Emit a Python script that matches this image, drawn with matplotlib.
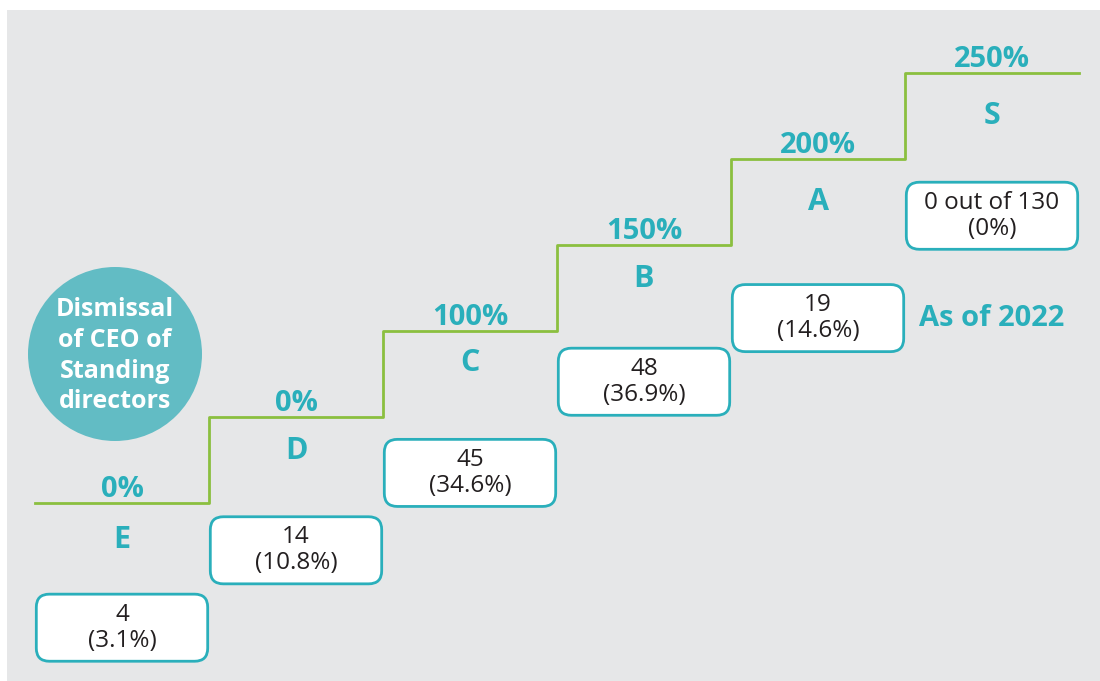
import numpy as np
import matplotlib.pyplot as plt
from matplotlib.patches import FancyBboxPatch, Rectangle

grades = ['E', 'D', 'C', 'B', 'A', 'S']
rates = ['0%', '0%', '100%', '150%', '200%', '250%']
counts = ['4', '14', '45', '48', '19', '0 out of 130']
shares = ['(3.1%)', '(10.8%)', '(34.6%)', '(36.9%)', '(14.6%)', '(0%)']

# layout (step units: 1 x-unit = one step wide, 1 y-unit = one step high)
letter_drop = [0.43, 0.40, 0.37, 0.39, 0.50, 0.50]
box_drop = [1.45, 1.55, 1.65, 1.59, 1.85, 1.66]
teal = '#2aafbb'
green = '#8bbf3f'
bg = '#e6e7e8'

plt.rcParams['font.family'] = ['Open Sans', 'DejaVu Sans']

fig = plt.figure(figsize=(11, 6.81), dpi=100)
ax = fig.add_axes([0, 0, 1, 1])
px, py = 174.0, 86.0
x0, y0 = 35.0, 503.0
ax.set_xlim(-x0 / px, (1100 - x0) / px)
ax.set_ylim((y0 - 681) / py, y0 / py)
ax.axis('off')

# gray panel
ax.add_patch(Rectangle(((7 - x0) / px, (y0 - 681) / py), 10, (681 - 10) / py,
                       facecolor=bg, edgecolor='none', zorder=0))

n = len(grades)
levels = np.arange(n)
xs = np.append(levels, n)
ax.step(xs, np.append(levels, levels[-1]), where='post', color=green, lw=2.0, zorder=2)

for i in range(n):
    cx = i + 0.5
    ax.text(cx, levels[i] + 0.16, rates[i], color=teal, fontsize=21, fontweight='bold',
            ha='center', va='center')
    ax.text(cx, levels[i] - letter_drop[i], grades[i], color=teal, fontsize=22,
            fontweight='bold', ha='center', va='center')
    by = levels[i] - box_drop[i]
    w, h = 0.985, 0.78
    box = FancyBboxPatch((cx - w / 2, by - h / 2), w, h,
                         boxstyle='round,pad=0,rounding_size=0.075',
                         mutation_aspect=px / py,
                         facecolor='white', edgecolor=teal, lw=2, zorder=3)
    ax.add_patch(box)
    ax.text(cx, by, counts[i] + '\n' + shares[i], color='#231f20', fontsize=17.5,
            ha='center', va='center', linespacing=1.1, zorder=4)

# As of 2022 note next to the A box
ax.text(5.5, levels[4] - box_drop[4], 'As of 2022', color=teal, fontsize=21,
        fontweight='bold', ha='center', va='center')

# circle title
cxp, cyp = (115 - x0) / px, (y0 - 354) / py
ax.add_patch(FancyBboxPatch((cxp, cyp), 0, 0, boxstyle='circle,pad=0.5',
                            mutation_aspect=px / py, facecolor='#62bcc4',
                            edgecolor='none', zorder=1))
ax.text(cxp, cyp - 0.02, 'Dismissal\nof CEO of\nStanding\ndirectors', color='white',
        fontsize=18, fontweight='bold', ha='center', va='center', linespacing=1.3, zorder=2)

fig.savefig('out.png', dpi=100, facecolor='white')
